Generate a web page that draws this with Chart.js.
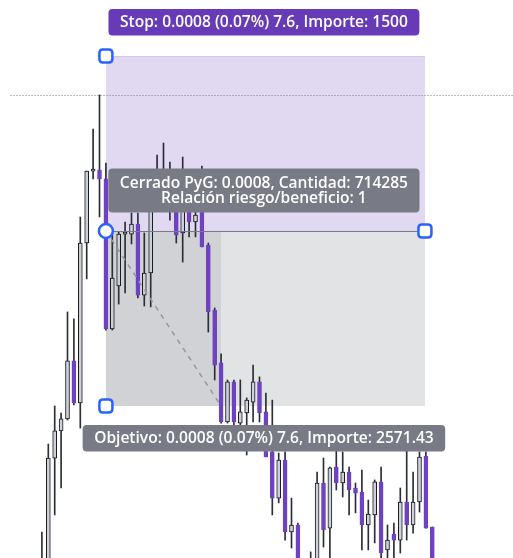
<!DOCTYPE html>
<html><head><meta charset="utf-8">
<script src="https://cdn.jsdelivr.net/npm/chart.js@4.4.1/dist/chart.umd.min.js"></script>
<style>html,body{margin:0;padding:0;background:#fff;overflow:hidden}canvas{display:block}</style>
</head><body>
<canvas id="c" width="513" height="558"></canvas>
<script>
// ---- data (EUR/USD-like prices) ----
const openP  = [1.141427,1.141450,1.141962,1.142086,1.142141,1.142406,1.142214,1.142945,1.143274,1.143279,
                1.143238,1.142552,1.142749,1.142986,1.142986,1.143032,1.142707,1.142808,1.143142,1.143233,
                1.143119,1.143160,1.142991,1.143128,1.143041,1.143087,1.142936,1.142639,1.142397,1.142127,
                1.142310,1.142122,1.142168,1.142218,1.142310,1.142173,1.141990,1.141779,1.141953,1.141624,
                1.141656,1.141450,1.141359,1.141450,1.141848,1.141642,1.141921,1.141848,1.141898,1.141825,
                1.141807,1.141656,1.141702,1.141853,1.141542,1.141615,1.141587,1.141761,1.141656,1.141761,
                1.141971,1.141647];
const highP  = [1.141624,1.142026,1.142200,1.142168,1.142630,1.142598,1.143064,1.143274,1.143466,1.143622,
                1.143311,1.142991,1.142995,1.143041,1.143082,1.143082,1.142991,1.143142,1.143347,1.143402,
                1.143315,1.143197,1.143338,1.143165,1.143105,1.143297,1.142945,1.142648,1.142438,1.142319,
                1.142319,1.142319,1.142237,1.142387,1.142333,1.142259,1.142227,1.141985,1.141990,1.141779,
                1.141665,1.141487,1.141533,1.141898,1.141962,1.141921,1.141999,1.141990,1.141921,1.141848,
                1.141907,1.141770,1.141862,1.141921,1.141656,1.141665,1.141825,1.141999,1.141898,1.141990,
                1.141990,1.141647];
const lowP   = [1.141359,1.141405,1.141702,1.141825,1.142136,1.142205,1.142099,1.142781,1.143238,1.143064,
                1.142547,1.142547,1.142666,1.142717,1.142941,1.142694,1.142657,1.142653,1.143114,1.143105,
                1.143050,1.142945,1.142858,1.142973,1.142973,1.142927,1.142538,1.142319,1.142122,1.142122,
                1.142113,1.142109,1.141976,1.142127,1.142127,1.141967,1.141702,1.141757,1.141587,1.141551,
                1.141405,1.141313,1.141313,1.141405,1.141555,1.141473,1.141816,1.141784,1.141702,1.141711,
                1.141542,1.141542,1.141574,1.141473,1.141473,1.141496,1.141528,1.141587,1.141619,1.141715,
                1.141642,1.141427];
const closeP = [1.141496,1.141962,1.142086,1.142141,1.142406,1.142214,1.142945,1.143274,1.143279,1.143238,
                1.142552,1.142785,1.142986,1.142991,1.143032,1.142707,1.142808,1.143105,1.143210,1.143160,
                1.143187,1.142982,1.143151,1.143041,1.143073,1.142927,1.142630,1.142387,1.142127,1.142310,
                1.142127,1.142173,1.142227,1.142310,1.142168,1.141967,1.141779,1.141953,1.141624,1.141656,
                1.141450,1.141359,1.141427,1.141848,1.141633,1.141917,1.141848,1.141898,1.141816,1.141802,
                1.141656,1.141706,1.141853,1.141528,1.141587,1.141587,1.141761,1.141656,1.141761,1.141967,
                1.141642,1.141450];

const entryPrice  = 1.14300;
const stopPrice   = 1.14380;
const targetPrice = 1.14220;
const hlinePrice  = 1.143622;
const entryIndex = 10, closeIndex = 28, endIndex = 59.85, hlineStartIndex = -4.9;

const stopText   = 'Stop: 0.0008 (0.07%) 7.6, Importe: 1500';
const closedText = ['Cerrado PyG: 0.0008, Cantidad: 714285', 'Relación riesgo/beneficio: 1'];
const targetText = 'Objetivo: 0.0008 (0.07%) 7.6, Importe: 2571.43';

// ---- styles ----
const PURPLE = '#6f42c1', HOLLOW = '#cdd0d6', WICK = '#2a2e39';
const idx = openP.map((_, i) => i);
const isUp = idx.map(i => closeP[i] >= openP[i]);

function rr(ctx, x, y, w, h, r) {
  ctx.beginPath();
  ctx.moveTo(x + r, y);
  ctx.lineTo(x + w - r, y); ctx.quadraticCurveTo(x + w, y, x + w, y + r);
  ctx.lineTo(x + w, y + h - r); ctx.quadraticCurveTo(x + w, y + h, x + w - r, y + h);
  ctx.lineTo(x + r, y + h); ctx.quadraticCurveTo(x, y + h, x, y + h - r);
  ctx.lineTo(x, y + r); ctx.quadraticCurveTo(x, y, x + r, y);
  ctx.closePath();
}

const FONT_FAMILY = '"Open Sans", "DejaVu Sans", sans-serif';
let fontSize = 14;

const overlay = {
  id: 'rrTool',
  beforeDatasetsDraw(chart) {
    const { ctx, scales: { x, y } } = chart;
    const x0 = Math.round(x.getPixelForValue(entryIndex));
    const x1 = Math.round(x.getPixelForValue(endIndex));
    const xc = Math.round(x.getPixelForValue(closeIndex));
    const ys = Math.round(y.getPixelForValue(stopPrice));
    const ye = Math.round(y.getPixelForValue(entryPrice));
    const yt = Math.round(y.getPixelForValue(targetPrice));
    ctx.save();
    ctx.fillStyle = '#e1d9f2';
    ctx.fillRect(x0, ys, x1 - x0, ye - ys);
    ctx.fillStyle = '#d3c7ec';
    ctx.fillRect(x0, ys, x1 - x0, 1);
    ctx.fillStyle = '#e2e3e5';
    ctx.fillRect(x0, ye, x1 - x0, yt - ye);
    ctx.fillStyle = '#d1d2d6';
    ctx.fillRect(x0, ye, xc - x0, yt - ye);
    // dotted horizontal line
    const yh = Math.round(y.getPixelForValue(hlinePrice)) + 0.5;
    ctx.strokeStyle = '#787b86';
    ctx.lineWidth = 1;
    ctx.setLineDash([1, 2]);
    ctx.beginPath();
    ctx.moveTo(x.getPixelForValue(hlineStartIndex), yh);
    ctx.lineTo(chart.width, yh);
    ctx.stroke();
    ctx.restore();
  },
  afterDatasetsDraw(chart) {
    const { ctx, scales: { x, y } } = chart;
    const x0 = x.getPixelForValue(entryIndex);
    const x1 = x.getPixelForValue(endIndex);
    const xc = x.getPixelForValue(closeIndex);
    const ys = y.getPixelForValue(stopPrice);
    const ye = y.getPixelForValue(entryPrice);
    const yt = y.getPixelForValue(targetPrice);
    ctx.save();
    // entry line
    ctx.strokeStyle = '#787b86';
    ctx.lineWidth = 1;
    ctx.beginPath();
    ctx.moveTo(x0, Math.round(ye) + 0.5);
    ctx.lineTo(x1, Math.round(ye) + 0.5);
    ctx.stroke();
    // dashed path to close
    ctx.strokeStyle = '#9598a1';
    ctx.lineWidth = 1.5;
    ctx.setLineDash([5, 5]);
    ctx.beginPath();
    ctx.moveTo(x0, ye);
    ctx.lineTo(xc, yt);
    ctx.stroke();
    ctx.setLineDash([]);

    // labels
    ctx.font = `600 14px ${FONT_FAMILY}`;
    const m = ctx.measureText(stopText).width;
    fontSize = 14 * 288 / m;
    ctx.font = `600 ${fontSize.toFixed(2)}px ${FONT_FAMILY}`;
    ctx.textAlign = 'center';
    ctx.textBaseline = 'middle';
    const cx = (x0 + x1) / 2 - 1.5;
    const pad = 11.5;

    function label(lines, bg, bottomY, topY, lh) {
      const w = Math.max(...lines.map(t => ctx.measureText(t).width)) + pad * 2;
      const h = 8 + lines.length * lh + (lines.length > 1 ? 5 : 3);
      const by = bottomY !== null ? bottomY - h : topY;
      ctx.fillStyle = bg;
      rr(ctx, cx - w / 2, by, w, h, 4);
      ctx.fill();
      ctx.fillStyle = '#ffffff';
      lines.forEach((t, k) => {
        ctx.fillText(t, cx, by + h / 2 + (k - (lines.length - 1) / 2) * lh + 0.5);
      });
    }
    label([stopText], '#673ab7', ys - 20.5, null, 15.5);
    label(closedText, '#787b86', ye - 18.5, null, 15.5);
    label([targetText], '#787b86', null, yt + 19, 15.5);

    // handles
    ctx.lineWidth = 2.5;
    ctx.strokeStyle = '#2962ff';
    ctx.fillStyle = '#ffffff';
    const sq = (px, py) => { rr(ctx, px - 6.5, py - 6.5, 13, 13, 3.5); ctx.fill(); ctx.stroke(); };
    sq(x0, ys);
    sq(x0, yt);
    sq(x1, ye);
    ctx.beginPath();
    ctx.arc(x0, ye, 7, 0, Math.PI * 2);
    ctx.fill(); ctx.stroke();
    ctx.restore();
  }
};

new Chart(document.getElementById('c'), {
  type: 'bar',
  data: {
    datasets: [
      {
        label: 'wicks',
        data: idx.map(i => ({ x: i, y: [lowP[i], highP[i]] })),
        backgroundColor: WICK,
        barThickness: 1,
        grouped: false,
        order: 2
      },
      {
        label: 'bodies',
        data: idx.map(i => ({ x: i, y: [openP[i], closeP[i]] })),
        backgroundColor: idx.map(i => isUp[i] ? HOLLOW : PURPLE),
        borderColor: idx.map(i => isUp[i] ? '#131722' : PURPLE),
        borderWidth: 1,
        borderSkipped: false,
        barThickness: 4,
        minBarLength: 2,
        grouped: false,
        order: 1
      }
    ]
  },
  options: {
    responsive: false,
    animation: false,
    devicePixelRatio: 1,
    layout: { padding: 0 },
    scales: {
      x: { type: 'linear', display: false, min: -6.547, max: 73.61, offset: false },
      y: { type: 'linear', display: false, min: 1.1415051, max: 1.1440560 }
    },
    plugins: { legend: { display: false }, tooltip: { enabled: false } }
  },
  plugins: [overlay]
});
</script>
</body></html>
